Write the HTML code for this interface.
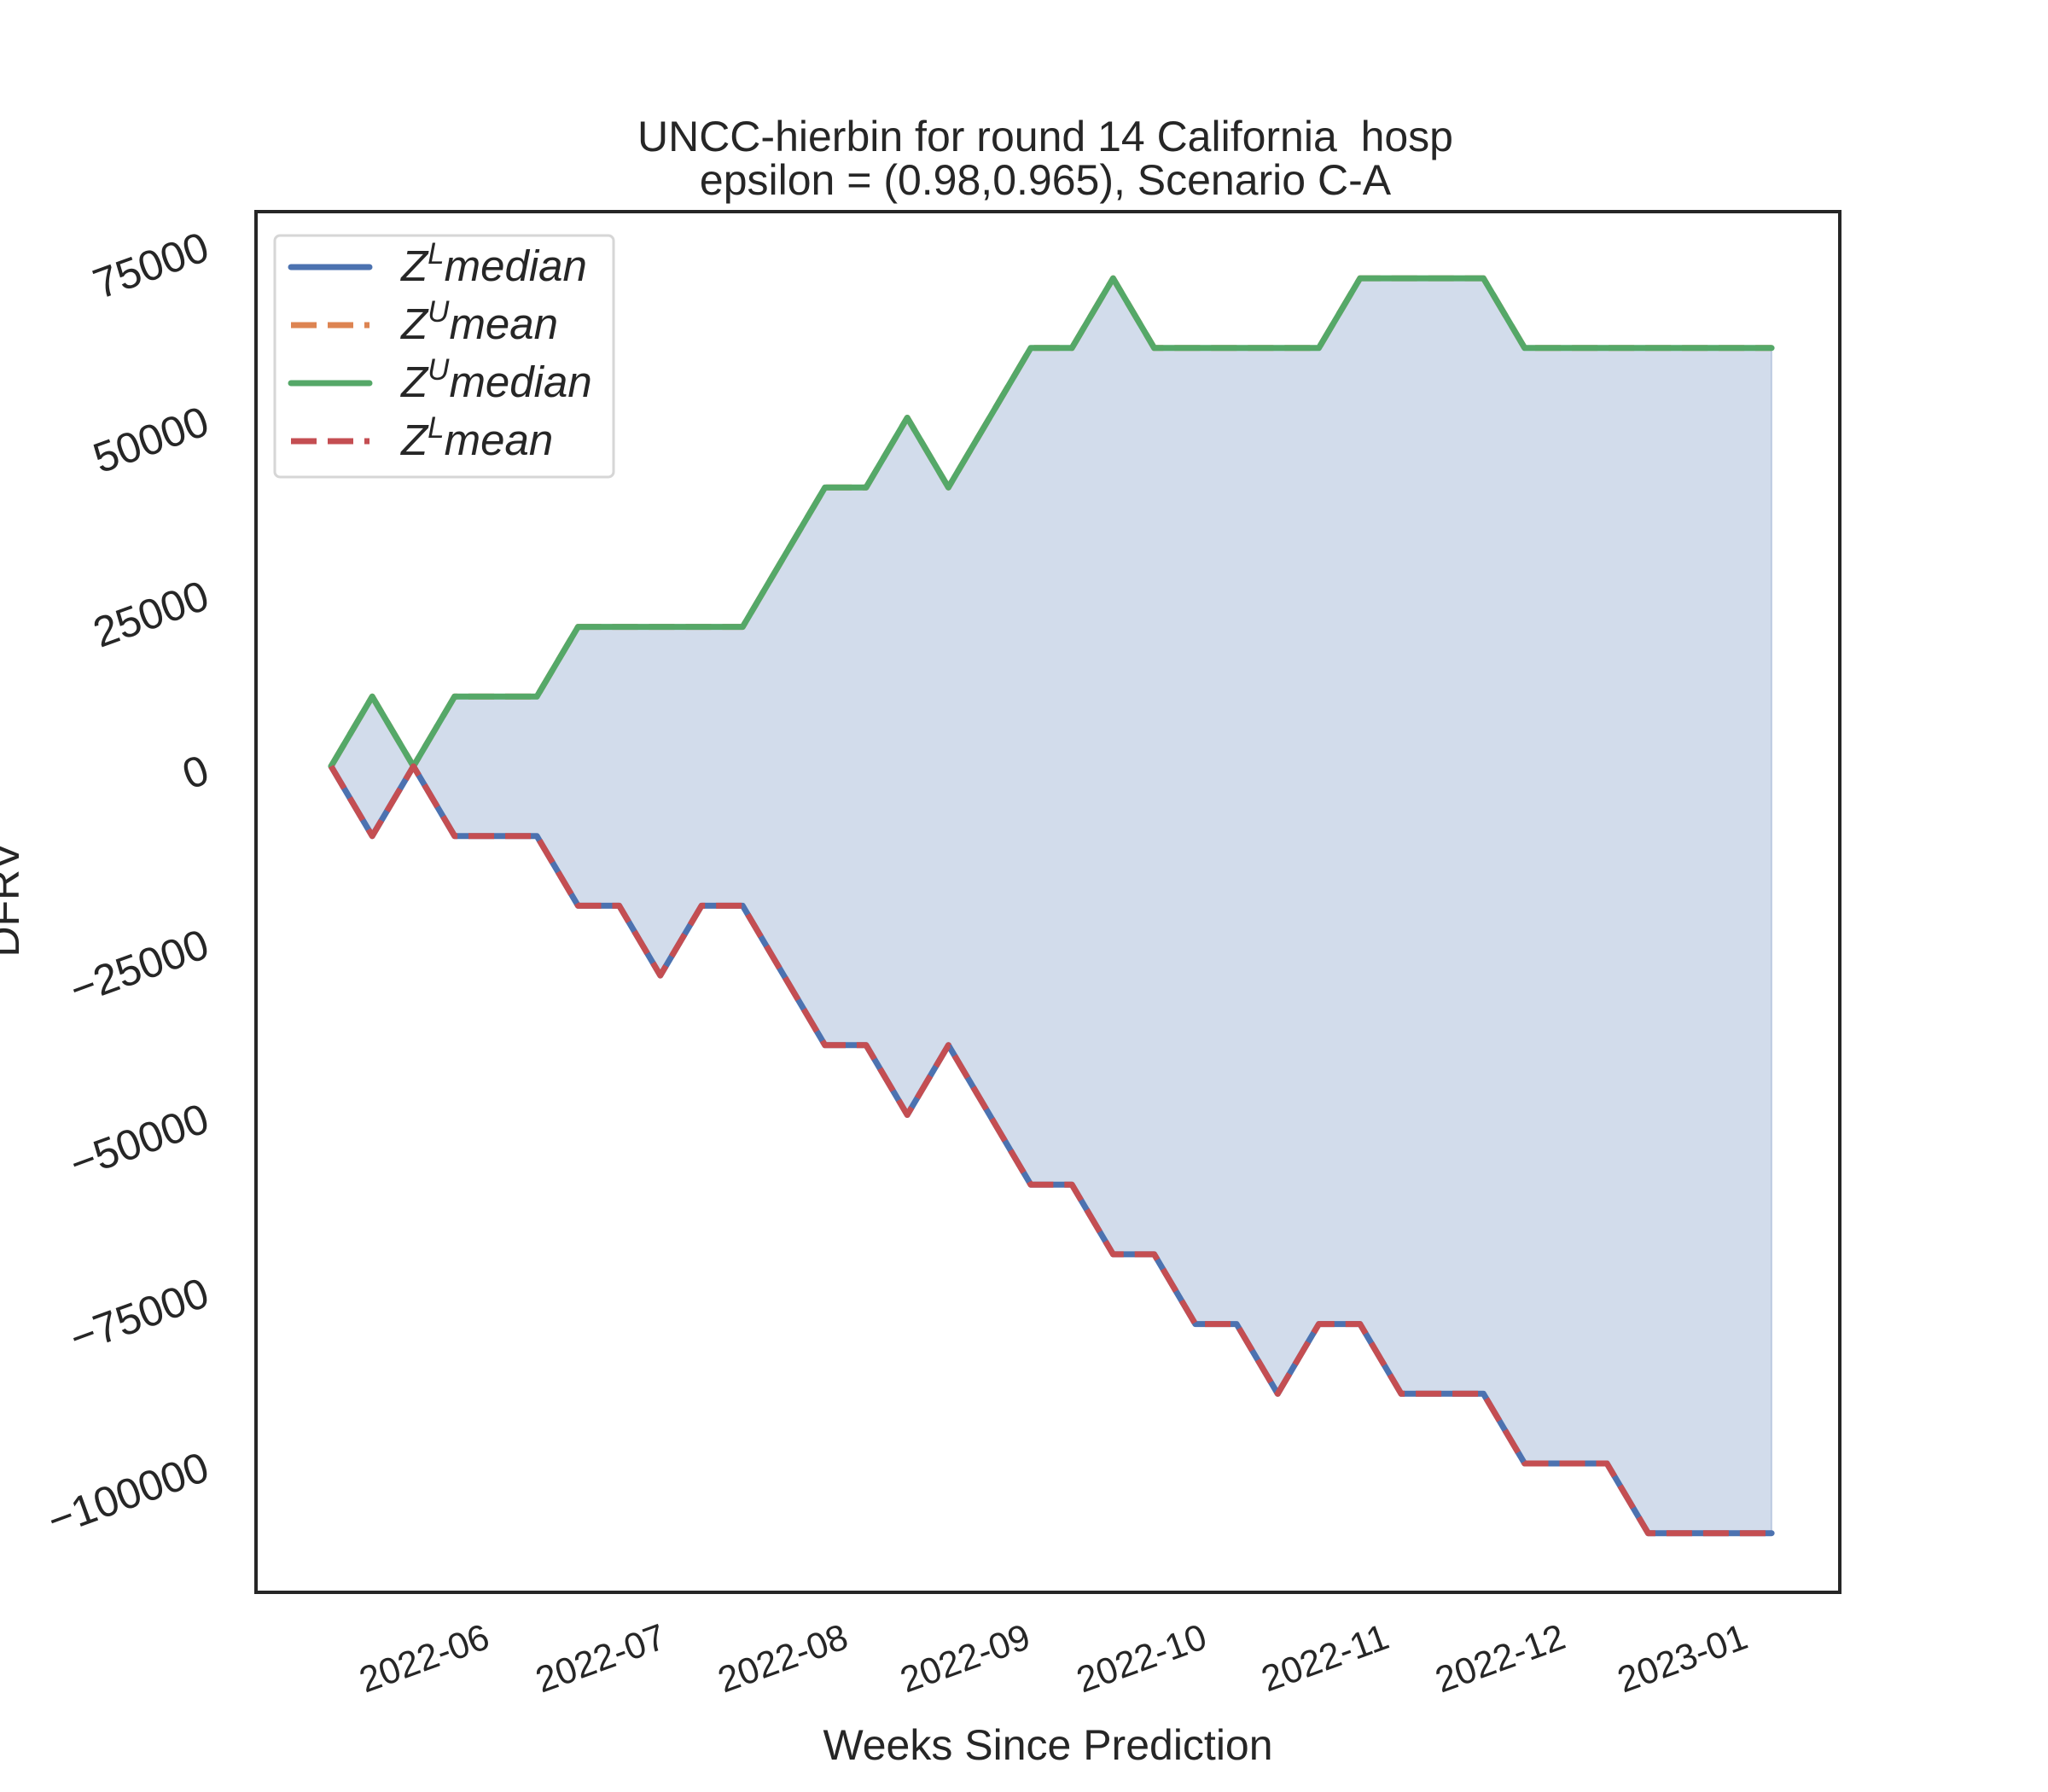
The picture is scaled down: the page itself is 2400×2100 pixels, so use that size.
<!DOCTYPE html>
<html><head><meta charset="utf-8"><style>
html,body{margin:0;padding:0;background:#fff;}
svg{display:block;font-family:"Liberation Sans",sans-serif;}
</style></head><body>
<svg id="chart" width="2400" height="2100" viewBox="0 0 2400 2100">
<rect x="0" y="0" width="2400" height="2100" fill="#fff"/>
<text x="1225" y="177" font-size="50" text-anchor="middle" fill="#262626" xml:space="preserve">UNCC-hierbin for round 14 California  hosp</text>
<text x="1225" y="228" font-size="50" text-anchor="middle" fill="#262626">epsilon = (0.98,0.965), Scenario C-A</text>
<g id="plot"></g>
<rect x="300" y="248" width="1856" height="1618" fill="none" stroke="#262626" stroke-width="4"/>
<g id="yticks"></g>
<g id="xticks"></g>
<text x="1228" y="2062" font-size="50" text-anchor="middle" fill="#262626">Weeks Since Prediction</text>
<text transform="translate(22,1054) rotate(-90)" font-size="50" text-anchor="middle" fill="#262626">DFRV</text>
<g>
<rect x="322" y="276" width="397" height="283" rx="6" fill="#fff" fill-opacity="0.8" stroke="#d6d6d6" stroke-width="3"/>
<g><line x1="341" y1="313" x2="433" y2="313" stroke="#4c72b0" stroke-width="7" stroke-linecap="round"/><text x="470" y="329" font-size="51" font-style="italic" fill="#262626">Z<tspan font-size="35" dy="-20">L</tspan><tspan dy="20">median</tspan></text></g>
<g><line x1="341" y1="381" x2="433" y2="381" stroke="#dd8452" stroke-width="7" stroke-dasharray="30 13"/><text x="470" y="397" font-size="51" font-style="italic" fill="#262626">Z<tspan font-size="35" dy="-20">U</tspan><tspan dy="20">mean</tspan></text></g>
<g><line x1="341" y1="449" x2="433" y2="449" stroke="#55a868" stroke-width="7" stroke-linecap="round"/><text x="470" y="465" font-size="51" font-style="italic" fill="#262626">Z<tspan font-size="35" dy="-20">U</tspan><tspan dy="20">median</tspan></text></g>
<g><line x1="341" y1="517" x2="433" y2="517" stroke="#c44e52" stroke-width="7" stroke-dasharray="30 13"/><text x="470" y="533" font-size="51" font-style="italic" fill="#262626">Z<tspan font-size="35" dy="-20">L</tspan><tspan dy="20">mean</tspan></text></g>
</g>
</svg>
<script>
const startDate = "2022-05-07";
const upperMedian = [0,10000,0,10000,10000,10000,20000,20000,20000,20000,20000,30000,40000,40000,50000,40000,50000,60000,60000,70000,60000,60000,60000,60000,60000,70000,70000,70000,70000,60000,60000,60000,60000,60000,60000,60000];
const upperMean = [0,10000,0,10000,10000,10000,20000,20000,20000,20000,20000,30000,40000,40000,50000,40000,50000,60000,60000,70000,60000,60000,60000,60000,60000,70000,70000,70000,70000,60000,60000,60000,60000,60000,60000,60000];
const lowerMedian = [0,-10000,0,-10000,-10000,-10000,-20000,-20000,-30000,-20000,-20000,-30000,-40000,-40000,-50000,-40000,-50000,-60000,-60000,-70000,-70000,-80000,-80000,-90000,-80000,-80000,-90000,-90000,-90000,-100000,-100000,-100000,-110000,-110000,-110000,-110000];
const lowerMean = [0,-10000,0,-10000,-10000,-10000,-20000,-20000,-30000,-20000,-20000,-30000,-40000,-40000,-50000,-40000,-50000,-60000,-60000,-70000,-70000,-80000,-80000,-90000,-80000,-80000,-90000,-90000,-90000,-100000,-100000,-100000,-110000,-110000,-110000,-110000];
const yTicks = [75000,50000,25000,0,-25000,-50000,-75000,-100000];
const yTickLabels = ["75000","50000","25000","0","\u221225000","\u221250000","\u221275000","\u2212100000"];
const xTickDates = ["2022-06-01","2022-07-01","2022-08-01","2022-09-01","2022-10-01","2022-11-01","2022-12-01","2023-01-01"];
const xTickLabels = ["2022-06","2022-07","2022-08","2022-09","2022-10","2022-11","2022-12","2023-01"];

const NS = "http://www.w3.org/2000/svg";
const t0 = Date.parse(startDate);
function dayOf(s){ return (Date.parse(s) - t0) / 86400000; }
function xScale(days){ return 388 + days * 6.89; }
function yScale(v){ return 898 - v * 0.00817; }
function xAt(i){ return xScale(i * 7); }

const plot = document.getElementById('plot');
function mk(tag, attrs){ const e = document.createElementNS(NS, tag); for (const k in attrs) e.setAttribute(k, attrs[k]); return e; }

let d = "";
upperMedian.forEach((v,i)=>{ d += (i?"L":"M") + xAt(i).toFixed(1) + "," + yScale(v).toFixed(1); });
for (let i = lowerMedian.length-1; i >= 0; i--) d += "L" + xAt(i).toFixed(1) + "," + yScale(lowerMedian[i]).toFixed(1);
d += "Z";
const area = mk('path', {d: d, fill: "#4c72b0", "fill-opacity": "0.25", stroke: "#4c72b0", "stroke-opacity": "0.25", "stroke-width": "2"});


plot.appendChild(area);

function line(arr, color, dash){
  const p = arr.map((v,i)=> (i?"L":"M") + xAt(i).toFixed(1) + "," + yScale(v).toFixed(1)).join("");
  const a = {d: p, fill: "none", stroke: color, "stroke-width": "7", "stroke-linejoin": "round"};
  if (dash) a["stroke-dasharray"] = "30 13"; else a["stroke-linecap"] = "round";
  return mk('path', a);
}
const l1 = line(lowerMedian, "#4c72b0", false);


plot.appendChild(l1);
const l2 = line(upperMean, "#dd8452", true);


plot.appendChild(l2);
const l3 = line(upperMedian, "#55a868", false);


plot.appendChild(l3);
const l4 = line(lowerMean, "#c44e52", true);


plot.appendChild(l4);

const yg = document.getElementById('yticks');
yTicks.forEach((v,i)=>{
  const y = yScale(v);
  const ax = 248, ay = y + 18;
  const t = mk('text', {x: ax, y: ay, "font-size": "50", "text-anchor": "end", fill: "#262626", transform: "rotate(-20 " + ax + " " + ay + ")"});
  t.textContent = yTickLabels[i];
  
  
  yg.appendChild(t);
});
const xg = document.getElementById('xticks');
xTickDates.forEach((s,i)=>{
  const x = xScale(dayOf(s)) + 16;
  const y = 1930;
  const t = mk('text', {x: x, y: y, "font-size": "43", "text-anchor": "end", fill: "#262626", transform: "rotate(-20 " + x + " " + y + ")"});
  t.textContent = xTickLabels[i];
  
  
  xg.appendChild(t);
});
</script>
</body></html>
